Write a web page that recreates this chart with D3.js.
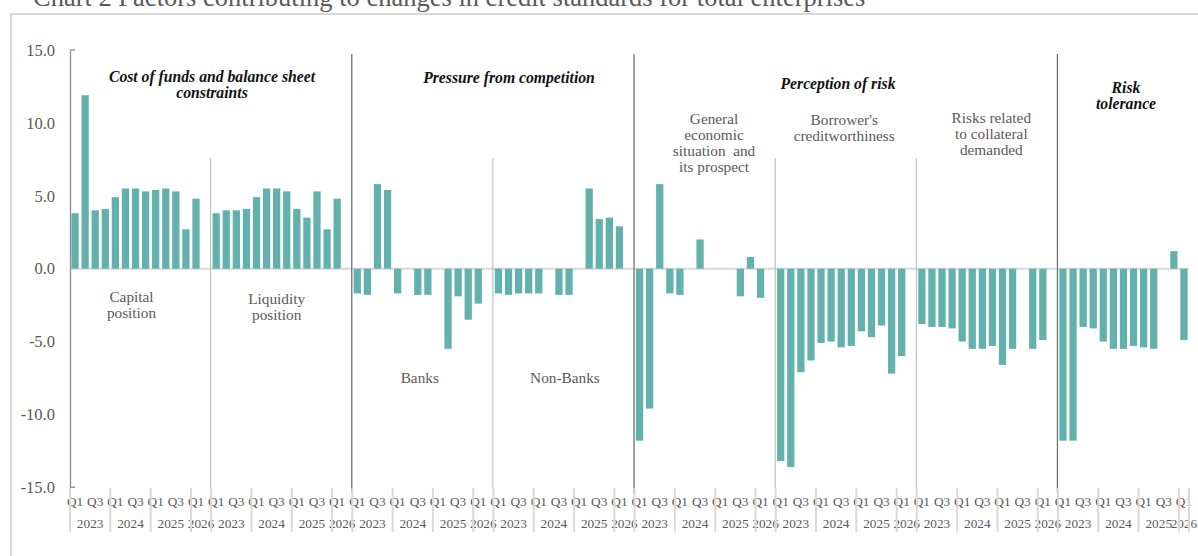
<!DOCTYPE html>
<html>
<head>
<meta charset="utf-8">
<script src="https://cdn.jsdelivr.net/npm/d3@7"></script>
<style>
  html, body { margin: 0; padding: 0; background: #fff; }
  svg { display: block; }
  svg text { font-family: "Liberation Serif", "Times New Roman", serif; }
</style>
</head>
<body>
<div id="chart"></div>
<script>
// quarter and year labels for the 13 survey rounds in every block
var quarters = ["Q1", "Q2", "Q3", "Q4", "Q1", "Q2", "Q3", "Q4", "Q1", "Q2", "Q3", "Q4", "Q1"];
var years = ["2023", "2023", "2023", "2023", "2024", "2024", "2024", "2024", "2025", "2025", "2025", "2025", "2026"];

// net percentages per factor
var capitalPosition   = [3.8, 11.9, 4.0, 4.1, 4.9, 5.5, 5.5, 5.3, 5.4, 5.5, 5.3, 2.7, 4.8];
var liquidityPosition = [3.8, 4.0, 4.0, 4.1, 4.9, 5.5, 5.5, 5.3, 4.1, 3.5, 5.3, 2.7, 4.8];
var banks             = [-1.7, -1.8, 5.8, 5.4, -1.7, 0, -1.8, -1.8, 0, -5.5, -1.9, -3.5, -2.4];
var nonBanks          = [-1.7, -1.8, -1.7, -1.7, -1.7, 0, -1.8, -1.8, 0, 5.5, 3.4, 3.5, 2.9];
var generalEconomy    = [-11.8, -9.6, 5.8, -1.7, -1.8, 0, 2.0, 0, 0, 0, -1.9, 0.8, -2.0];
var creditworthiness  = [-13.2, -13.6, -7.1, -6.3, -5.1, -5.0, -5.4, -5.3, -4.3, -4.7, -3.9, -7.2, -6.0];
var collateralRisk    = [-3.8, -4.0, -4.0, -4.1, -5.0, -5.5, -5.5, -5.3, -6.6, -5.5, 0, -5.5, -4.9];
var riskTolerance     = [-11.8, -11.8, -4.0, -4.1, -5.0, -5.5, -5.5, -5.3, -5.4, -5.5, 0, 1.2, -4.9];

var yTicks = [-15, -10, -5, 0, 5, 10, 15];

(function() {
    var series = [capitalPosition, liquidityPosition, banks, nonBanks,
                  generalEconomy, creditworthiness, collateralRisk, riskTolerance];

    var width = 1198, height = 556;
    var plotLeft = 70, plotRight = 1189, plotTop = 50, plotBottom = 487.3;
    var grey = "#595959";
    var teal = "#62b1ac";
    var serif = "'Liberation Serif', 'Times New Roman', serif";

    var svg = d3.select("#chart").append("svg")
        .attr("width", width)
        .attr("height", height);

    // outer frame and title
    svg.append("rect")
        .attr("x", 11).attr("y", 14)
        .attr("width", 1210).attr("height", 570)
        .attr("fill", "none")
        .attr("stroke", "#d9d9d9")
        .attr("stroke-width", 2);

    svg.append("text")
        .attr("x", 33).attr("y", 6)
        .attr("fill", grey)
        .style("font-family", serif)
        .style("font-size", "26.5px")
        .text("Chart 2 Factors contributing to changes in credit standards for total enterprises");

    // one slot per quarter, plus a blank slot between blocks
    var slots = [];
    series.forEach(function(s, g) {
        s.forEach(function(v, i) { slots.push("g" + g + "q" + i); });
        if (g < series.length - 1) slots.push("g" + g + "sep");
    });

    var x = d3.scaleBand().domain(slots).range([plotLeft, plotRight]).padding(0);
    var y = d3.scaleLinear().domain([-15, 15]).range([plotBottom, plotTop]);
    var bw = x.bandwidth();
    var barW = bw * 0.72;

    function groupStart(g) { return x("g" + g + "q0"); }
    function groupEnd(g) { return x("g" + g + "q12") + bw; }

    // zero line
    svg.append("line")
        .attr("x1", plotLeft).attr("x2", plotRight)
        .attr("y1", y(0)).attr("y2", y(0))
        .attr("stroke", "#d9d9d9")
        .attr("stroke-width", 2);

    // block dividers
    [2, 4, 7].forEach(function(g) {
        svg.append("line")
            .attr("x1", groupStart(g) - 0.5).attr("x2", groupStart(g) - 0.5)
            .attr("y1", 54).attr("y2", 493)
            .attr("stroke", "#707070").attr("stroke-width", 1.3);
    });
    [1, 3, 5, 6].forEach(function(g) {
        svg.append("line")
            .attr("x1", groupStart(g) - 0.5).attr("x2", groupStart(g) - 0.5)
            .attr("y1", 158).attr("y2", 488)
            .attr("stroke", "#b4b4b4").attr("stroke-width", 1);
    });

    // bars
    series.forEach(function(s, g) {
        svg.append("g").selectAll("rect")
            .data(s.map(function(v, i) { return { key: "g" + g + "q" + i, v: v }; })
                    .filter(function(d) { return d.v !== 0; }))
            .enter().append("rect")
            .attr("x", function(d) { return x(d.key) + (bw - barW) / 2; })
            .attr("y", function(d) { return y(Math.max(0, d.v)); })
            .attr("width", barW)
            .attr("height", function(d) { return Math.abs(y(d.v) - y(0)); })
            .attr("fill", teal);
    });

    // y axis
    var yAxis = svg.append("g")
        .attr("transform", "translate(" + plotLeft + ",0)")
        .call(d3.axisLeft(y).tickValues(yTicks).tickSize(0).tickPadding(15)
            .tickFormat(function(d) { return d.toFixed(1); }));
    yAxis.select(".domain").attr("stroke", "#8c8c8c").attr("stroke-width", 1.3);
    yAxis.selectAll("text").attr("fill", grey)
        .style("font-size", "16.5px")
        .style("font-family", serif);
    [15, -15].forEach(function(t) {
        svg.append("line")
            .attr("x1", plotLeft).attr("x2", plotLeft + 5)
            .attr("y1", y(t)).attr("y2", y(t))
            .attr("stroke", "#8c8c8c").attr("stroke-width", 1.3);
    });

    // category axis: quarters, years and separators
    var yearNames = ["2023", "2024", "2025", "2026"];
    series.forEach(function(s, g) {
        var qg = svg.append("g");
        quarters.forEach(function(q, i) {
            if (i % 2) return;
            qg.append("text")
                .attr("x", x("g" + g + "q" + i) + bw / 2)
                .attr("y", 506)
                .attr("text-anchor", "middle")
                .attr("fill", grey)
                .style("font-family", serif)
                .style("font-size", "13.3px")
                .text(q);
        });
        yearNames.forEach(function(yr) {
            var first = years.indexOf(yr), last = years.lastIndexOf(yr);
            var x0 = x("g" + g + "q" + first);
            var x1 = x("g" + g + "q" + last) + bw;
            if (last === years.length - 1 && g < series.length - 1) x1 += bw;
            qg.append("text")
                .attr("x", (x0 + x1) / 2)
                .attr("y", 528)
                .attr("text-anchor", "middle")
                .attr("fill", grey)
                .style("font-family", serif)
                .style("font-size", "13.3px")
                .text(yr);
            qg.append("line")
                .attr("x1", x0).attr("x2", x0)
                .attr("y1", 488).attr("y2", 532)
                .attr("stroke", "#d9d9d9").attr("stroke-width", 2);
        });
    });
    svg.append("line")
        .attr("x1", plotRight).attr("x2", plotRight)
        .attr("y1", 488).attr("y2", 532)
        .attr("stroke", "#d9d9d9").attr("stroke-width", 2);

    // block headings
    var headings = [
        { lines: ["Cost of funds and balance sheet", "constraints"], x: 212, y: 82 },
        { lines: ["Pressure from competition"], x: 509, y: 83 },
        { lines: ["Perception of risk"], x: 838, y: 89 },
        { lines: ["Risk", "tolerance"], x: 1126, y: 93 }
    ];
    headings.forEach(function(h) {
        h.lines.forEach(function(t, k) {
            svg.append("text")
                .attr("x", h.x).attr("y", h.y + k * 15.5)
                .attr("text-anchor", "middle")
                .attr("fill", "#111")
                .style("font-family", serif)
                .style("font-size", "15.7px")
                .style("font-weight", "bold")
                .style("font-style", "italic")
                .text(t);
        });
    });

    // factor names
    var factorNames = [
        { lines: ["Capital", "position"], g: 0, dx: -4, y: 302 },
        { lines: ["Liquidity", "position"], g: 1, dx: 0, y: 304 },
        { lines: ["Banks"], g: 2, dx: 2, y: 383 },
        { lines: ["Non-Banks"], g: 3, dx: 6, y: 383 },
        { lines: ["General", "economic", "situation  and", "its prospect"], g: 4, dx: 14, y: 124 },
        { lines: ["Borrower's", "creditworthiness"], g: 5, dx: 3, y: 125 },
        { lines: ["Risks related", "to collateral", "demanded"], g: 6, dx: 9, y: 123 }
    ];
    factorNames.forEach(function(f) {
        var cx = (groupStart(f.g) + groupEnd(f.g)) / 2 + f.dx;
        f.lines.forEach(function(t, k) {
            svg.append("text")
                .attr("x", cx).attr("y", f.y + k * 16)
                .attr("text-anchor", "middle")
                .attr("fill", grey)
                .style("font-family", serif)
                .style("font-size", "15.3px")
                .style("white-space", "pre")
                .text(t);
        });
    });
})();
</script>
</body>
</html>
